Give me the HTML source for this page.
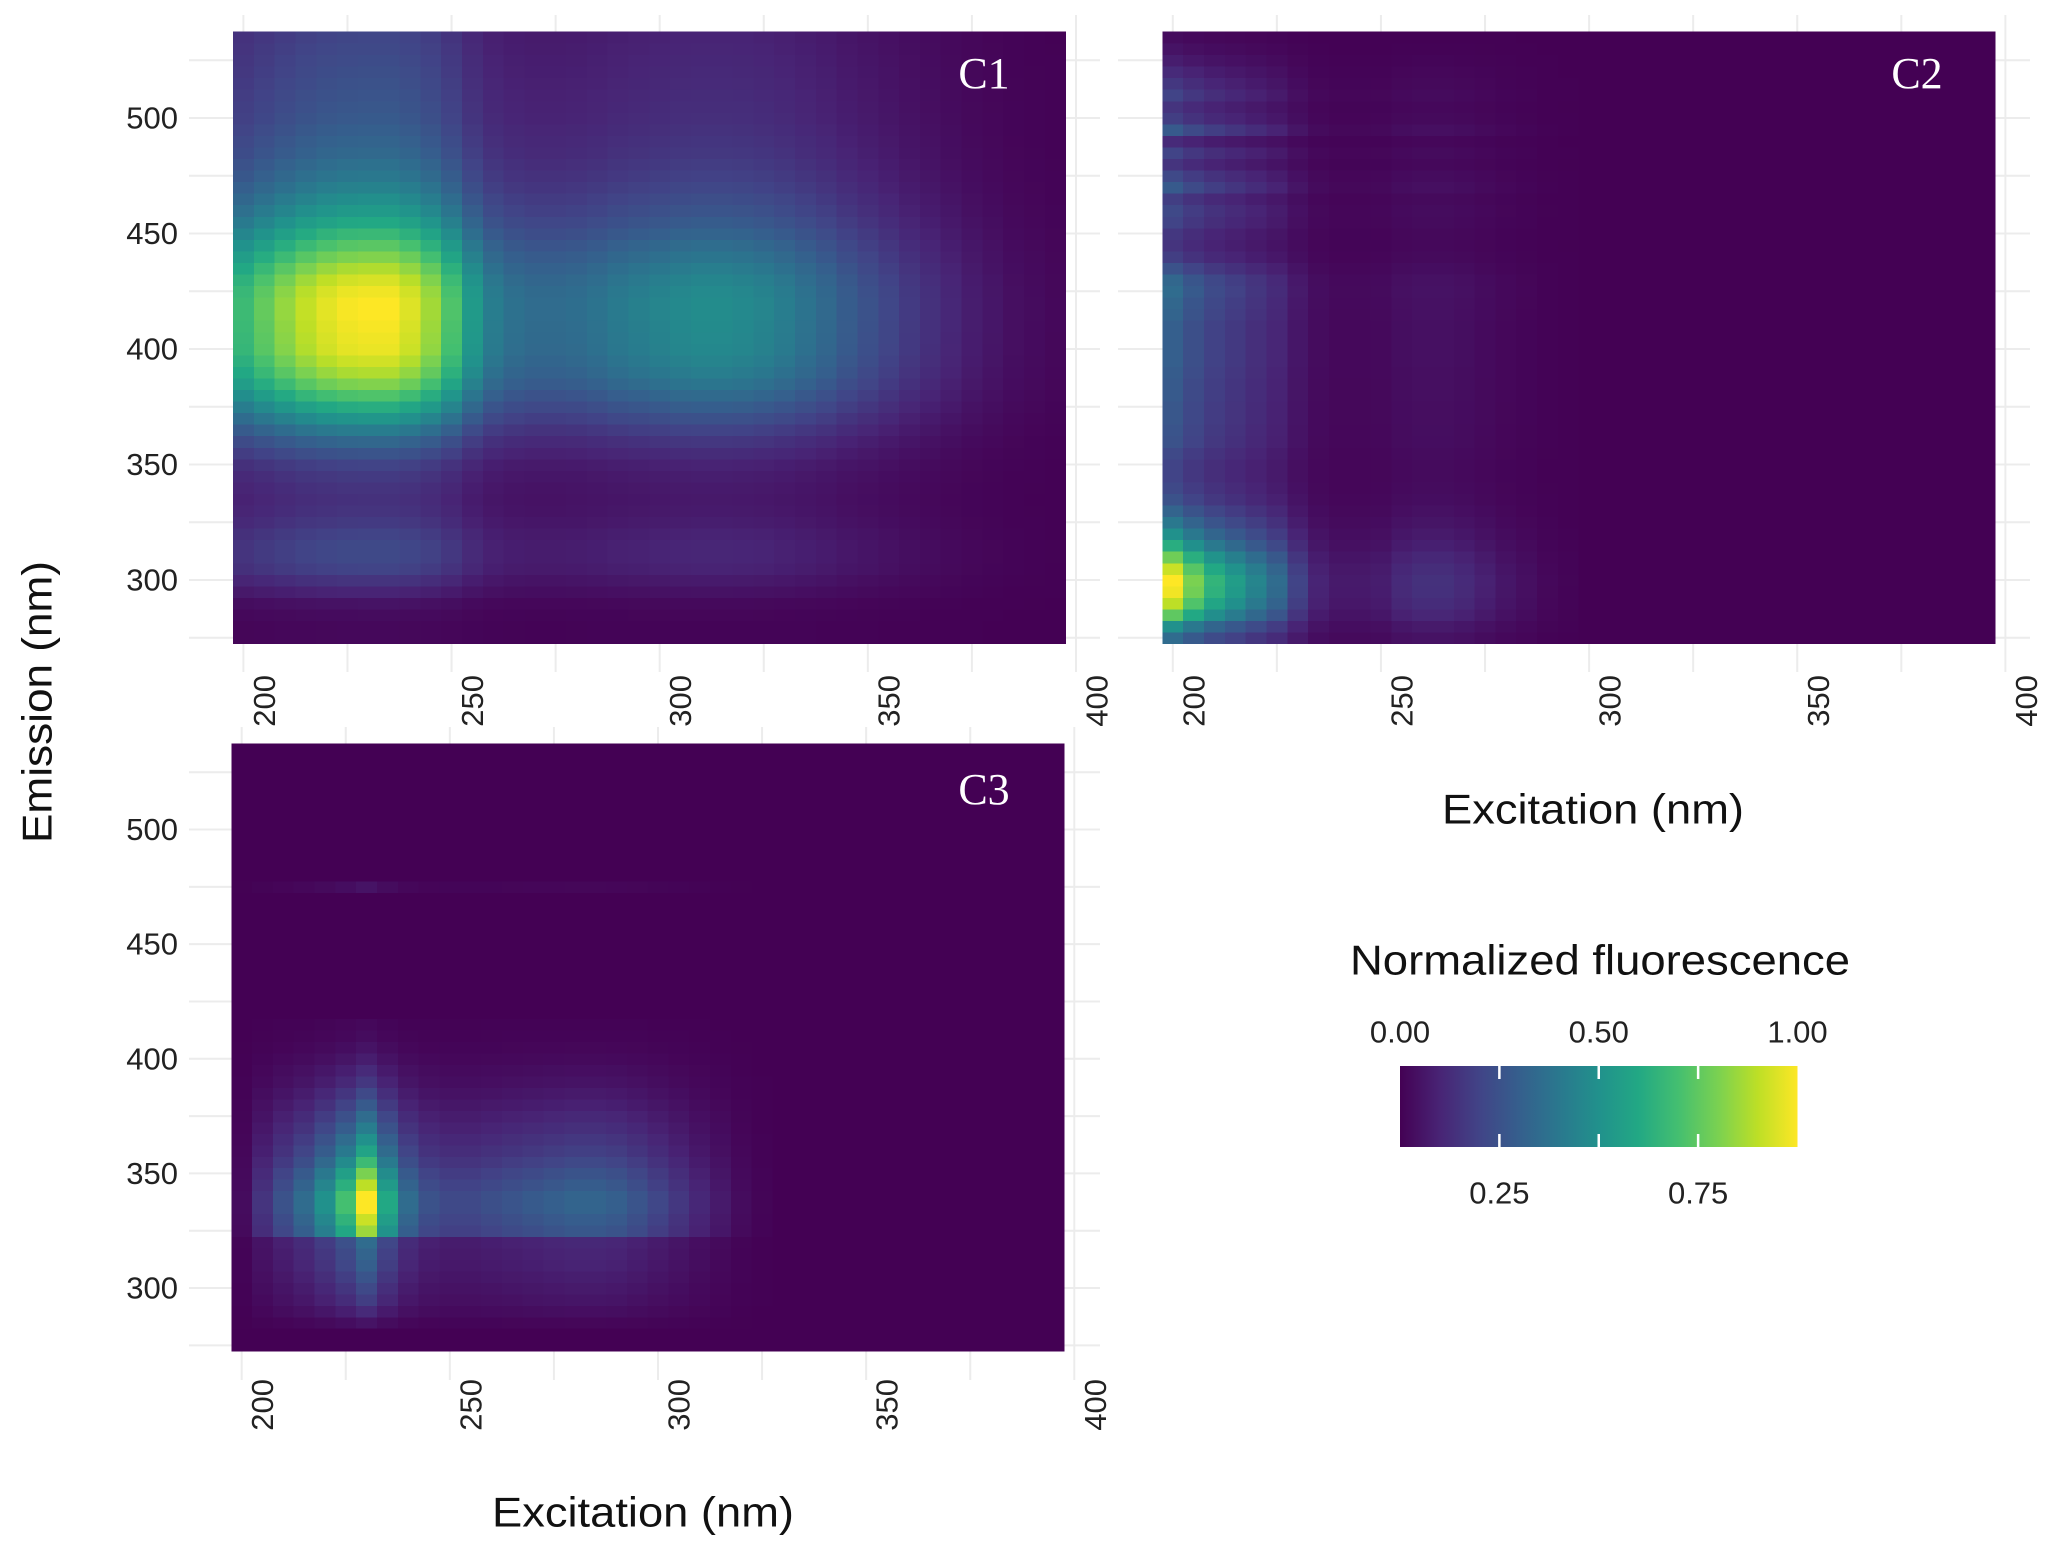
<!DOCTYPE html>
<html><head><meta charset="utf-8">
<style>
html,body{margin:0;padding:0;background:#fff;}
svg{display:block;}
text{font-family:"Liberation Sans",sans-serif;}
</style></head>
<body>
<svg id="chart" xmlns="http://www.w3.org/2000/svg" width="2067" height="1546" viewBox="0 0 2067 1546">
<defs>
<linearGradient id="viridis" x1="0" x2="1" y1="0" y2="0">
<stop offset="0" stop-color="#440154"/><stop offset="0.1" stop-color="#482475"/><stop offset="0.2" stop-color="#414487"/><stop offset="0.3" stop-color="#355f8d"/><stop offset="0.4" stop-color="#2a788e"/><stop offset="0.5" stop-color="#21918c"/><stop offset="0.6" stop-color="#22a884"/><stop offset="0.7" stop-color="#44bf70"/><stop offset="0.8" stop-color="#7ad151"/><stop offset="0.9" stop-color="#bddf26"/><stop offset="1" stop-color="#fde725"/>
</linearGradient>
</defs>
</svg>
<script>
// ---- data ----
const excitation = [200,205,210,215,220,225,230,235,240,245,250,255,260,265,270,275,280,285,290,295,300,305,310,315,320,325,330,335,340,345,350,355,360,365,370,375,380,385,390,395];
const emission = [275,280,285,290,295,300,305,310,315,320,325,330,335,340,345,350,355,360,365,370,375,380,385,390,395,400,405,410,415,420,425,430,435,440,445,450,455,460,465,470,475,480,485,490,495,500,505,510,515,520,525,530,535];
const c1Ex = [0.68,0.76,0.84,0.91,0.96,0.99,1.0,1.0,0.95,0.86,0.72,0.54,0.42,0.37,0.35,0.35,0.36,0.38,0.41,0.43,0.45,0.47,0.48,0.48,0.47,0.45,0.42,0.38,0.34,0.29,0.25,0.21,0.17,0.14,0.11,0.08,0.06,0.04,0.03,0.02];
const c1Em = [0.02,0.02,0.03,0.05,0.10,0.15,0.20,0.22,0.22,0.20,0.17,0.15,0.14,0.15,0.17,0.20,0.26,0.33,0.42,0.52,0.62,0.72,0.81,0.88,0.93,0.97,0.98,0.99,1.0,1.0,0.98,0.94,0.88,0.81,0.74,0.67,0.60,0.54,0.49,0.44,0.40,0.37,0.34,0.32,0.30,0.28,0.27,0.26,0.25,0.24,0.23,0.22,0.21];
const c2Ex = [1.0,0.80,0.65,0.55,0.45,0.35,0.20,0.10,0.07,0.07,0.08,0.12,0.14,0.14,0.12,0.09,0.06,0.04,0.02,0.01,0,0,0,0,0,0,0,0,0,0,0,0,0,0,0,0,0,0,0,0];
const c2Em = [0.35,0.50,0.75,0.90,0.98,1.0,0.92,0.78,0.62,0.50,0.40,0.32,0.25,0.22,0.20,0.20,0.22,0.25,0.26,0.27,0.27,0.28,0.28,0.29,0.30,0.30,0.30,0.30,0.32,0.33,0.35,0.33,0.25,0.18,0.15,0.16,0.20,0.22,0.18,0.28,0.22,0.15,0.20,0.12,0.28,0.18,0.15,0.20,0.16,0.12,0.08,0.05,0.03];
const c3Ex = [0.03,0.15,0.25,0.35,0.50,0.70,1.0,0.60,0.35,0.25,0.22,0.22,0.24,0.26,0.28,0.30,0.32,0.32,0.30,0.26,0.21,0.16,0.11,0.07,0.03,0.01,0,0,0,0,0,0,0,0,0,0,0,0,0,0];
const c3Em = [0,0,0.05,0.12,0.18,0.22,0.26,0.30,0.32,0.35,0.85,0.92,1.0,1.0,0.90,0.80,0.68,0.58,0.50,0.42,0.35,0.28,0.22,0.16,0.12,0.08,0.05,0.03,0.02,0,0,0,0,0,0,0,0,0,0,0,0.05,0,0,0,0,0,0,0,0,0,0,0,0];
const xTickLabels = ["200","250","300","350","400"];
const yTickLabels = ["300","350","400","450","500"];
const legendTop = ["0.00","0.50","1.00"];
const legendBottom = ["0.25","0.75"];

const NS = "http://www.w3.org/2000/svg";
const svg = document.getElementById('chart');
const stops = ["#440154","#482475","#414487","#355f8d","#2a788e","#21918c","#22a884","#44bf70","#7ad151","#bddf26","#fde725"];
function hex(c){return [parseInt(c.substr(1,2),16),parseInt(c.substr(3,2),16),parseInt(c.substr(5,2),16)];}
function viridis(v){v=Math.max(0,Math.min(1,v));const p=v*10;const i=Math.min(9,Math.floor(p));const f=p-i;const a=hex(stops[i]),b=hex(stops[i+1]);return "rgb("+a.map((x,k)=>Math.round(x+(b[k]-x)*f)).join(",")+")";}
function mk(tag,attrs,parent){const e=document.createElementNS(NS,tag);for(const k in attrs)e.setAttribute(k,attrs[k]);(parent||svg).appendChild(e);return e;}

const panels = [
 {name:'c1', label:'C1', x200:243.4, y300:580, y500:118, gTop:15, gBot:672, gLeft:189, gRight:1100, ex:c1Ex, em:c1Em, ylab:true, xlabTop:675},
 {name:'c2', label:'C2', x200:1172.8, y300:580, y500:118, gTop:15, gBot:672, gLeft:1118, gRight:2030, ex:c2Ex, em:c2Em, ylab:false, xlabTop:675},
 {name:'c3', label:'C3', x200:241.7, y300:1288, y500:829.5, gTop:727, gBot:1380, gLeft:189, gRight:1100, ex:c3Ex, em:c3Em, ylab:true, xlabTop:1379}
];
const sx = 4.163;
panels.forEach(p=>{
  const g = mk('g',{});
  
  
  const X = v => p.x200 + (v-200)*sx;
  const sy = (p.y300-p.y500)/200;
  const Y = v => p.y300 - (v-300)*sy;
  for(let v=200; v<=400; v+=25){
    const l=mk('line',{x1:X(v),x2:X(v),y1:p.gTop,y2:p.gBot,stroke:'#ececec','stroke-width':2},g);
    
    
  }
  for(let v=275; v<=525; v+=25){
    const l=mk('line',{x1:p.gLeft,x2:p.gRight,y1:Y(v),y2:Y(v),stroke:'#ececec','stroke-width':2},g);
    
    
  }
  const tg = mk('g',{'shape-rendering':'crispEdges'},g);
  
  
  excitation.forEach((ex,i)=>{
    emission.forEach((em,j)=>{
      const v = p.ex[i]*p.em[j];
      const x0=X(ex-2.5), x1=X(ex+2.5), y0=Y(em+2.5), y1=Y(em-2.5);
      const r=mk('rect',{x:x0,y:y0,width:x1-x0+0.6,height:y1-y0+0.6,fill:viridis(v)},tg);
      
      
    });
  });
  const t=mk('text',{x:p.name==='c2'?1917:984,y:p.name==='c3'?804:88,'text-anchor':'middle',fill:'#fff','font-size':44,style:'font-family:"Liberation Serif",serif'},g);
  t.textContent=p.label;
  
  
  xTickLabels.forEach(s=>{
    const v=+s, cx=X(v)+21, ty=p.xlabTop;
    const tl=mk('text',{x:0,y:0,transform:'translate('+cx+','+ty+') rotate(-90)','text-anchor':'end','dominant-baseline':'central','font-size':31,fill:'#222'},g);
    tl.textContent=s;
    
    
  });
  if(p.ylab){
    yTickLabels.forEach(s=>{
      const v=+s;
      const tl=mk('text',{x:178,y:Y(v),'text-anchor':'end','dominant-baseline':'central','font-size':31,fill:'#222'},g);
      tl.textContent=s;
      
      
    });
  }
});
function title(txt,x,y,rot,len,name){
  const t=mk('text',{x:0,y:0,transform:'translate('+x+','+y+')'+(rot?' rotate(-90)':''),'text-anchor':'middle','dominant-baseline':'central','font-size':42,fill:'#111',textLength:len,lengthAdjust:'spacingAndGlyphs'});
  t.textContent=txt;
  
  return t;
}
title('Excitation (nm)',1593,809,false,302,'x-axis-title-top');
title('Excitation (nm)',643,1512,false,302,'x-axis-title-bottom');
title('Emission (nm)',37,702,true,282,'y-axis-title');
title('Normalized fluorescence',1600,960,false,500,'legend-title');
const lg=mk('g',{});


const L0=1400, L1=1797.5, LT=1066, LB=1147;
const bar=mk('rect',{x:L0,y:LT,width:L1-L0,height:LB-LT,fill:'url(#viridis)'},lg);


const LX = v => L0 + v*(L1-L0);
legendTop.concat(legendBottom).forEach(s=>{
  const v=+s;
  if(v>0 && v<1){
    mk('line',{x1:LX(v),x2:LX(v),y1:LT,y2:LT+13,stroke:'#fff','stroke-width':2.5},lg);
    mk('line',{x1:LX(v),x2:LX(v),y1:LB-13,y2:LB,stroke:'#fff','stroke-width':2.5},lg);
  }
});
legendTop.forEach(s=>{
  const t=mk('text',{x:LX(+s),y:1032,'text-anchor':'middle','dominant-baseline':'central','font-size':31,fill:'#222'},lg);
  t.textContent=s;
  
  
});
legendBottom.forEach(s=>{
  const t=mk('text',{x:LX(+s),y:1193,'text-anchor':'middle','dominant-baseline':'central','font-size':31,fill:'#222'},lg);
  t.textContent=s;
  
  
});
</script>
</body></html>
